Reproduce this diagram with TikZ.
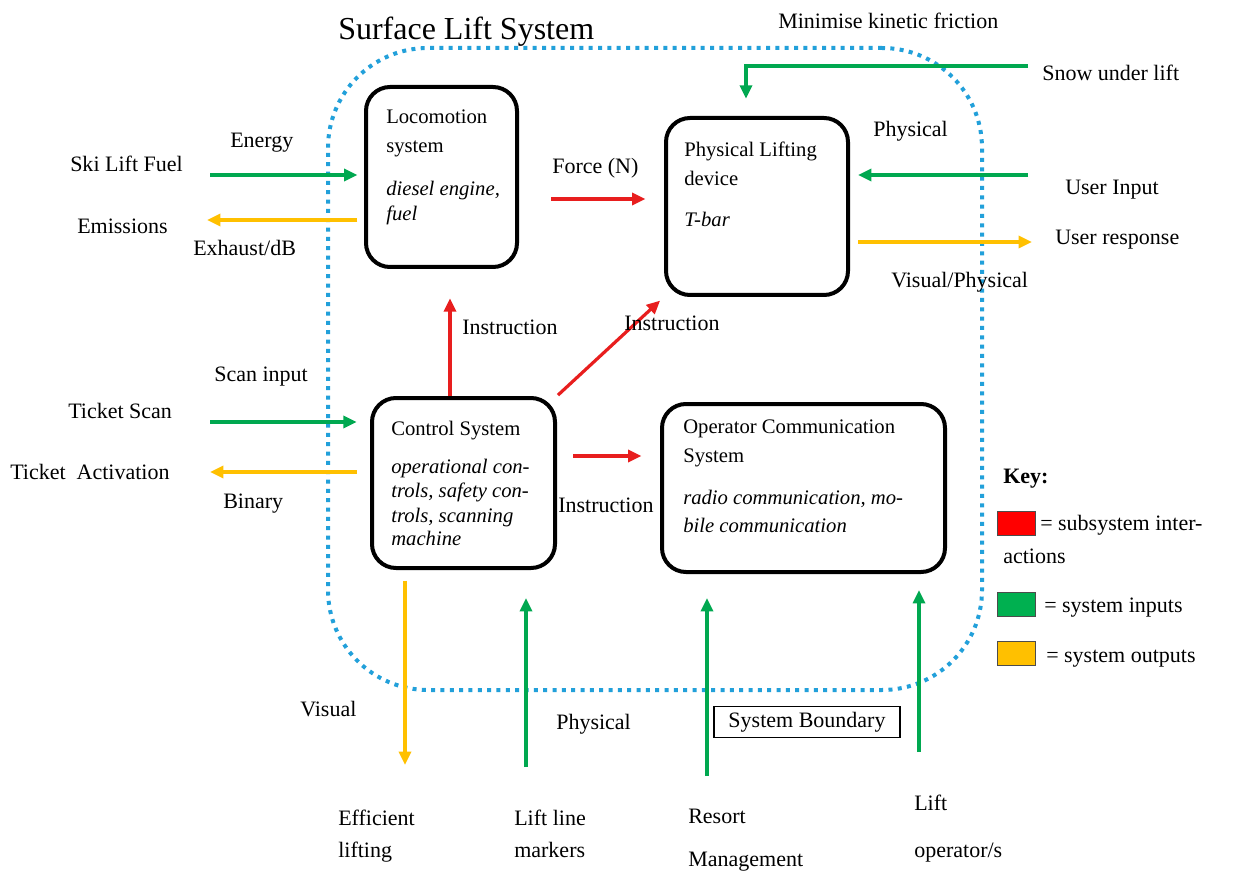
\documentclass[tikz,border=0pt]{standalone}
\usepackage{fontspec}
\setmainfont{Liberation Serif}
\usetikzlibrary{arrows.meta,fit,calc}
\definecolor{bnd}{RGB}{34,160,218}
\definecolor{grn}{RGB}{0,168,80}
\definecolor{ylw}{RGB}{255,192,0}
\definecolor{rd}{RGB}{232,30,30}
\definecolor{keyrd}{RGB}{255,0,0}
\definecolor{keygr}{RGB}{0,176,80}
\tikzset{
  lbl/.style={font=\fontsize{16.5}{20}\selectfont, inner sep=0pt, anchor=base west},
  ttl/.style={font=\fontsize{24}{28}\selectfont, inner sep=0pt, anchor=base west},
  btx/.style={font=\fontsize{15.5}{19}\selectfont, inner sep=0pt, anchor=base west},
  bit/.style={font=\fontsize{15.5}{19}\selectfont\itshape, inner sep=0pt, anchor=base west},
  sysbox/.style={draw=black, line width=3pt, rounded corners=18pt, inner sep=0pt},
  boundary/.style={draw=bnd, line width=3pt, dash pattern=on 3pt off 4pt, rounded corners=75pt, inner sep=0pt},
  tipx/.style={-{Triangle[length=10pt,width=9pt]}},
  garrow/.style={draw=grn, line width=2.4pt, tipx},
  yarrow/.style={draw=ylw, line width=2.4pt, tipx},
  rarrow/.style={draw=rd, line width=2.4pt, tipx},
  swatch/.style={draw=black!70, line width=0.6pt, inner sep=0pt}
}
\begin{document}
\begin{tikzpicture}[x=0.75pt,y=-0.75pt]
\useasboundingbox (0,0) rectangle (1238,873);
\fill[white] (0,0) rectangle (1238,873);

% boundary
\node[boundary, fit={(328,48) (982,690)}] (bound) {};
\node[ttl] (title) at (338,40) {Surface Lift System};

% subsystem boxes
\node[sysbox, fit={(366,87) (517,267)}] (loco) {};
\node[sysbox, fit={(666,118) (848,295)}] (phys) {};
\node[sysbox, fit={(372,398) (555,568)}] (ctrl) {};
\node[sysbox, fit={(662,404) (945,572)}] (oper) {};

% box texts
\node[btx] (lt1) at (386,124) {Locomotion};
\node[btx] (lt2) at (386,153) {system};
\node[bit] (lt3) at (386,196) {diesel engine,};
\node[bit] (lt4) at (386,221) {fuel};

\node[btx] (pt1) at (684,157) {Physical Lifting};
\node[btx] (pt2) at (684,186) {device};
\node[bit] (pt3) at (684,227) {T-bar};

\node[btx] (ct1) at (391,435) {Control System};
\node[bit] (ct2) at (391,473) {operational con-};
\node[bit] (ct3) at (391,497) {trols, safety con-};
\node[bit] (ct4) at (391,522) {trols, scanning};
\node[bit] (ct5) at (391,545) {machine};

\node[btx] (ot1) at (683,433) {Operator Communication};
\node[btx] (ot2) at (683,462) {System};
\node[bit] (ot3) at (683,504) {radio communication, mo-};
\node[bit] (ot4) at (683,532) {bile communication};

% free-end coordinates
\coordinate (fuelin) at (210,175);
\coordinate (emisout) at (207,220);
\coordinate (forcey) at (0,199);
\coordinate (snowin) at (1028,66);
\coordinate (uin) at (1028,175);
\coordinate (uresp) at (1032,242);
\coordinate (tsin) at (210,422);
\coordinate (taout) at (210,472);
\coordinate (opy) at (0,456);
\coordinate (insx) at (450,0);
\coordinate (visout) at (405,765);
\coordinate (llm) at (526,767);
\coordinate (resort) at (707,776);
\coordinate (liftop) at (919,752);

% connectors
\draw[garrow, shorten >=5pt] (fuelin) -- (fuelin -| loco.west);
\draw[yarrow, shorten <=5pt] (emisout -| loco.west) -- (emisout);
\draw[rarrow, shorten <=24pt, shorten >=14pt] (loco.east |- forcey) -- (phys.west |- forcey);
\draw[garrow, shorten >=13pt] (snowin) -| ([xshift=-8.25pt]phys.north);
\draw[garrow, shorten >=6pt] (uin) -- (uin -| phys.east);
\draw[yarrow, shorten <=6pt] (uresp -| phys.east) -- (uresp);
\draw[rarrow, shorten >=22pt] (insx |- ctrl.north) -- (insx |- loco.south);
\draw[rarrow, shorten <=1pt, shorten >=4pt] (ctrl.north east) -- (phys.south west);
\draw[rarrow, shorten <=12pt, shorten >=14pt] (ctrl.east |- opy) -- (oper.west |- opy);
\draw[garrow, shorten >=10pt] (tsin) -- (tsin -| ctrl.west);
\draw[yarrow, shorten <=10pt] (taout -| ctrl.west) -- (taout);
\draw[yarrow, shorten <=8pt] (visout |- ctrl.south) -- (visout);
\draw[garrow, shorten >=21pt] (llm) -- (llm |- ctrl.south);
\draw[garrow, shorten >=18pt] (resort) -- (resort |- oper.south);
\draw[garrow, shorten >=12pt] (liftop) -- (liftop |- oper.south);

% labels
\node[lbl] (minf) at (778,29) {Minimise kinetic friction};
\node[lbl] (snow) at (1042,81) {Snow under lift};
\node[lbl] (energy) at (230,148) {Energy};
\node[lbl] (fuel) at (70,172) {Ski Lift Fuel};
\node[lbl] (emis) at (77,234) {Emissions};
\node[lbl] (exh) at (193,256) {Exhaust/dB};
\node[lbl] (force) at (552,174) {Force (N)};
\node[lbl] (physl) at (873,137) {Physical};
\node[lbl] (uinl) at (1065,195) {User Input};
\node[lbl] (uresl) at (1055,245) {User response};
\node[lbl] (visph) at (891,288) {Visual/Physical};
\node[lbl] (ins1) at (462,335) {Instruction};
\node[lbl] (ins2) at (624,331) {Instruction};
\node[lbl] (scan) at (214,382) {Scan input};
\node[lbl] (tscan) at (68,418) {Ticket Scan};
\node[lbl] (tact) at (10,479) {Ticket\ \ Activation};
\node[lbl] (bin) at (223,508) {Binary};
\node[lbl] (ins3) at (558,512) {Instruction};
\node[lbl] (vis) at (300,716) {Visual};
\node[lbl] (physb) at (556,729) {Physical};
\node[draw=black, line width=1pt, minimum width=139.5pt, minimum height=23.25pt, inner sep=0pt, font=\fontsize{16.5}{20}\selectfont] (sb) at (807,722) {System Boundary};
\node[lbl] (eff1) at (338,825) {Efficient};
\node[lbl] (eff2) at (338,857) {lifting};
\node[lbl] (llm1) at (514,825) {Lift line};
\node[lbl] (llm2) at (514,857) {markers};
\node[lbl] (res1) at (688,823) {Resort};
\node[lbl] (res2) at (688,866) {Management};
\node[lbl] (lo1) at (914,810) {Lift};
\node[lbl] (lo2) at (914,857) {operator/s};

% key
\node[lbl, font=\fontsize{16.5}{20}\selectfont\bfseries] (key) at (1003,483) {Key:};
\node[swatch, fill=keyrd, fit={(997,511) (1035,535)}] (kr) {};
\node[lbl] (kr1) at (1040,530) {= subsystem inter-};
\node[lbl] (kr2) at (1003,563) {actions};
\node[swatch, fill=keygr, fit={(997,592) (1035,616)}] (kg) {};
\node[lbl] (kg1) at (1044,612) {= system inputs};
\node[swatch, fill=ylw, fit={(997,641) (1035,665)}] (ky) {};
\node[lbl] (ky1) at (1046,662) {= system outputs};
\end{tikzpicture}
\end{document}
